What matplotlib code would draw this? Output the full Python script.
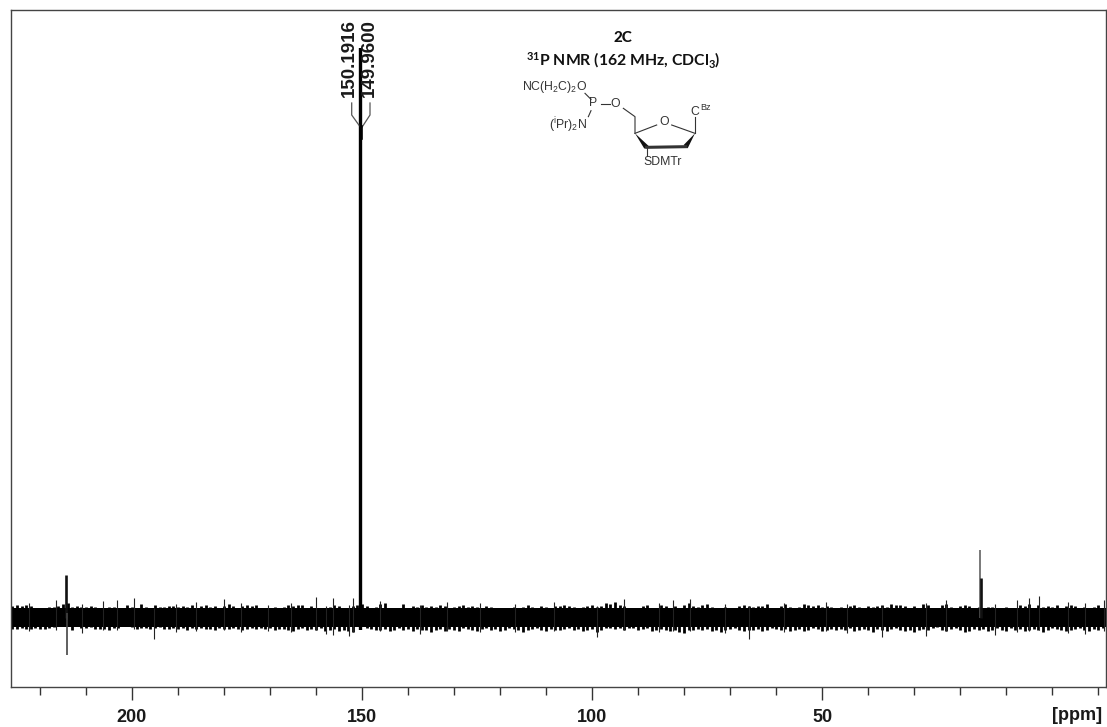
import numpy as np
import matplotlib
matplotlib.use("Agg")
import matplotlib.pyplot as plt
from matplotlib.patches import Polygon

W, H = 1107, 727

# noise band, one value per ppm from 226 down to -11 (height above / below baseline)
noise_top = [
    12, 13, 12, 13, 12, 9, 7, 9, 11, 11, 12, 14, 15, 11, 12,
    11, 11, 12, 11, 10, 10, 11, 11, 9, 9, 13, 11, 9, 14, 11,
    9, 13, 11, 11, 12, 12, 11, 12, 11, 13, 10, 12, 13, 11, 12,
    10, 12, 14, 12, 10, 12, 13, 12, 13, 10, 10, 9, 11, 10, 11,
    13, 12, 13, 13, 9, 12, 10, 10, 9, 11, 13, 12, 8, 10, 12,
    13, 14, 12, 10, 11, 14, 15, 10, 9, 9, 14, 10, 12, 11, 13,
    11, 12, 11, 13, 12, 10, 11, 12, 13, 11, 12, 11, 10, 12, 11,
    9, 9, 10, 10, 11, 10, 11, 13, 11, 10, 12, 11, 10, 12, 12,
    13, 12, 11, 10, 11, 12, 13, 11, 12, 15, 14, 16, 13, 12, 10,
    9, 10, 12, 13, 10, 10, 13, 12, 10, 12, 10, 13, 15, 12, 11,
    13, 14, 11, 10, 9, 11, 9, 9, 12, 13, 12, 11, 12, 12, 14,
    10, 10, 12, 14, 11, 9, 11, 14, 13, 12, 13, 11, 12, 11, 10,
    11, 10, 12, 13, 11, 10, 12, 11, 12, 13, 11, 14, 13, 13, 12,
    10, 12, 9, 14, 13, 7, 10, 13, 14, 11, 10, 12, 13, 12, 9,
    11, 10, 11, 11, 10, 9, 11, 10, 9, 13, 12, 14, 10, 13, 11,
    12, 11, 13, 10, 12, 13, 12, 9, 11, 10, 11, 13, 10,
]
noise_bottom = [
    11, 11, 10, 11, 11, 10, 11, 11, 10, 9, 8, 7, 8, 12, 8,
    10, 10, 9, 11, 11, 11, 12, 10, 10, 8, 6, 9, 11, 10, 10,
    11, 10, 9, 11, 11, 10, 11, 10, 12, 10, 11, 10, 11, 11, 12,
    10, 11, 11, 10, 11, 12, 11, 10, 11, 10, 11, 10, 12, 11, 11,
    12, 13, 11, 10, 12, 11, 12, 10, 13, 12, 11, 13, 12, 13, 14,
    8, 7, 10, 11, 12, 12, 11, 13, 12, 10, 12, 11, 13, 11, 12,
    12, 14, 12, 11, 13, 11, 12, 13, 10, 11, 12, 13, 11, 10, 12,
    11, 13, 12, 10, 11, 12, 14, 12, 11, 10, 12, 13, 11, 12, 12,
    11, 10, 12, 11, 13, 12, 11, 14, 12, 10, 10, 11, 10, 12, 10,
    10, 12, 11, 10, 13, 12, 11, 12, 13, 12, 14, 15, 12, 12, 11,
    12, 11, 13, 12, 14, 12, 11, 10, 12, 13, 12, 12, 11, 13, 12,
    10, 11, 12, 11, 13, 12, 11, 13, 12, 10, 11, 13, 12, 11, 12,
    11, 12, 10, 13, 12, 11, 12, 14, 11, 12, 13, 11, 10, 12, 13,
    12, 14, 12, 11, 12, 10, 9, 12, 13, 11, 10, 12, 14, 13, 11,
    12, 11, 13, 12, 10, 12, 13, 10, 12, 11, 13, 12, 11, 12, 14,
    12, 10, 11, 12, 13, 12, 11, 10, 12, 13, 11, 12, 10,
]
band_ppm = np.arange(226, -12, -1)
# solid middle of the noise, reads about the same all the way across
core_top = 9.5
core_bottom = -9.5

# single noise spikes sticking out of the band
spike_ppm = [222.3, 216.5, 210.8, 206.2, 203.3, 199.6, 195.3, 190.4, 186.1, 180.0, 176.2,
             170.5, 165.4, 160.0, 157.8, 156.2, 152.8, 152.0, 146.2, 137.4, 131.6, 124.3,
             116.8, 108.2, 99.0, 93.0, 85.4, 82.4, 78.7, 71.2, 66.0, 58.3, 49.1, 44.6,
             37.0, 27.4, 23.0, 12.5, 7.6, 5.0, 2.8, -3.4, -7.2, -11.2]
spike_top = [15, 18, 14, 17, 17.5, 19.5, 10, 14, 16, 19, 15,
             13, 15, 21, 12, 20, 13, 20, 17, 13, 16, 15,
             14, 16, 12, 19, 15, 18, 19, 14, 12, 15, 16, 14,
             12, 15, 18, 14, 18, 20, 21.5, 16, 15, 18]
spike_bottom = [13, 12, 15, 12, 12, 11, 21, 14, 13, 12, 14,
                13, 14, 12, 16, 17.5, 18.5, 14, 13, 16, 13, 14,
                14, 13, 19, 12, 14, 13, 13, 15, 21.5, 14, 13, 15,
                19, 18, 13, 17, 14, 13, 12, 15, 16, 13]

# real signals: position, top, bottom
peak_ppm = [214.4, 214.2, 150.45, 150.2, 15.6, 15.4]
peak_top = [42.5, 5, 570, 570, 67.5, 40]
peak_bottom = [0, 37.5, 12, 12, 0, 0]
peak_width = [1.9, 1.2, 1.7, 1.7, 1.1, 1.9]
peak_color = ["#111111", "#444444", "black", "black", "#555555", "#111111"]

major_ticks = [200, 150, 100, 50]
major_labels = ["200", "150", "100", "50"]
minor_ticks = [220, 210, 190, 180, 170, 160, 140, 130, 120, 110, 90, 80, 70, 60, 40, 30, 20, 10, 0, -10]

peak_labels = ["150.1916", "149.9600"]


def fx(x):
    return x / W


def fy(y):
    return 1 - y / H


fig = plt.figure(figsize=(W / 100, H / 100), dpi=100)
plt.rcParams["mathtext.default"] = "regular"

ax = fig.add_axes([fx(10.5), fy(687), (1106 - 10.5) / W, (687 - 10) / H])
ax.set_xlim(226.4, -11.7)
ax.set_ylim(-69.5, 607.5)

ax.axhspan(core_bottom, core_top, color="black", lw=0)
ax.vlines(band_ppm, -np.array(noise_bottom), noise_top, color="black", lw=2.0)
ax.vlines(spike_ppm, -np.array(spike_bottom), spike_top, color="#222222", lw=0.8)
for p, t, b, w, c in zip(peak_ppm, peak_top, peak_bottom, peak_width, peak_color):
    ax.vlines(p, -b, t, color=c, lw=w)

ax.set_yticks([])
ax.set_xticks(major_ticks)
ax.set_xticklabels(major_labels, family="Liberation Sans", weight="bold", fontsize=13, color="#1a1a1a")
ax.set_xticks(minor_ticks, minor=True)
ax.tick_params(axis="x", which="major", length=9.5, width=1.0, color="#333333", pad=6)
ax.tick_params(axis="x", which="minor", length=6, width=1.0, color="#333333")
for s in ax.spines.values():
    s.set_linewidth(1.0)
    s.set_color("#444444")

fig.text(fx(1077), fy(715), "[ppm]", family="Liberation Sans", weight="bold", fontsize=13,
         ha="center", va="center", color="#1a1a1a")

# peak picking labels and connectors
for x0, lab in zip([349, 369], peak_labels):
    fig.text(fx(x0), fy(58), lab, rotation=90, family="Liberation Sans", weight="bold",
             fontsize=13.5, ha="center", va="center", color="#1a1a1a")
for xs in ([351.7, 351.7, 361], [370, 370, 361.5]):
    fig.add_artist(plt.Line2D([fx(v) for v in xs], [fy(103), fy(115), fy(128)], color="#555555", lw=0.9))
fig.add_artist(plt.Line2D([fx(360.5), fx(360.5)], [fy(127), fy(138)], color="black", lw=2.6))

# title
fig.text(fx(623), fy(38), "2C", family="Lato", weight="black", fontsize=11, ha="center", va="center", color="#111111")
fig.text(fx(623), fy(60), "$^{31}$P NMR (162 MHz, CDCl$_3$)", family="Lato", weight="bold", fontsize=11.3,
         ha="center", va="center", color="#111111")


# molecule, drawn in pixel positions of the picture
def zx(X):
    return fx(510 + X / 3)


def zy(Y):
    return fy(70 + Y / 3)


def bond(pts, lw=0.8):
    fig.add_artist(plt.Line2D([zx(p[0]) for p in pts], [zy(p[1]) for p in pts], color="#333333", lw=lw))


def wedge(pts):
    fig.add_artist(Polygon([(zx(a), zy(b)) for a, b in pts], closed=True, color="#111111", lw=0,
                           transform=fig.transFigure))


def atom(X, Y, s, size=8.8, ha="center"):
    fig.text(zx(X), zy(Y), s, family="Liberation Sans", fontsize=size, ha=ha, va="center", color="#333333")


atom(35, 52, "NC(H$_2$C)$_2$O", ha="left")
atom(248, 100, "P")
atom(316, 102, "O")
atom(118, 165, "($^{i}$Pr)$_2$N", ha="left")
atom(462, 157, "O")
atom(459, 275, "SDMTr")
atom(555, 125, "C")
atom(587, 114, "Bz", size=6.5)

bond([(225, 70), (243, 88)])
bond([(272, 103), (300, 103)])
bond([(243, 122), (235, 140)])
bond([(340, 115), (375, 140), (375, 190)])
bond([(375, 190), (440, 165)])
bond([(485, 165), (555, 190)])
bond([(555, 190), (555, 140)])
bond([(410, 232), (410, 258)])
bond([(410, 232), (527, 230)], lw=2.2)
wedge([(375, 190), (403, 236), (416, 228)])
wedge([(555, 190), (521, 225), (533, 235)])

fig.savefig("out.png", dpi=100)
